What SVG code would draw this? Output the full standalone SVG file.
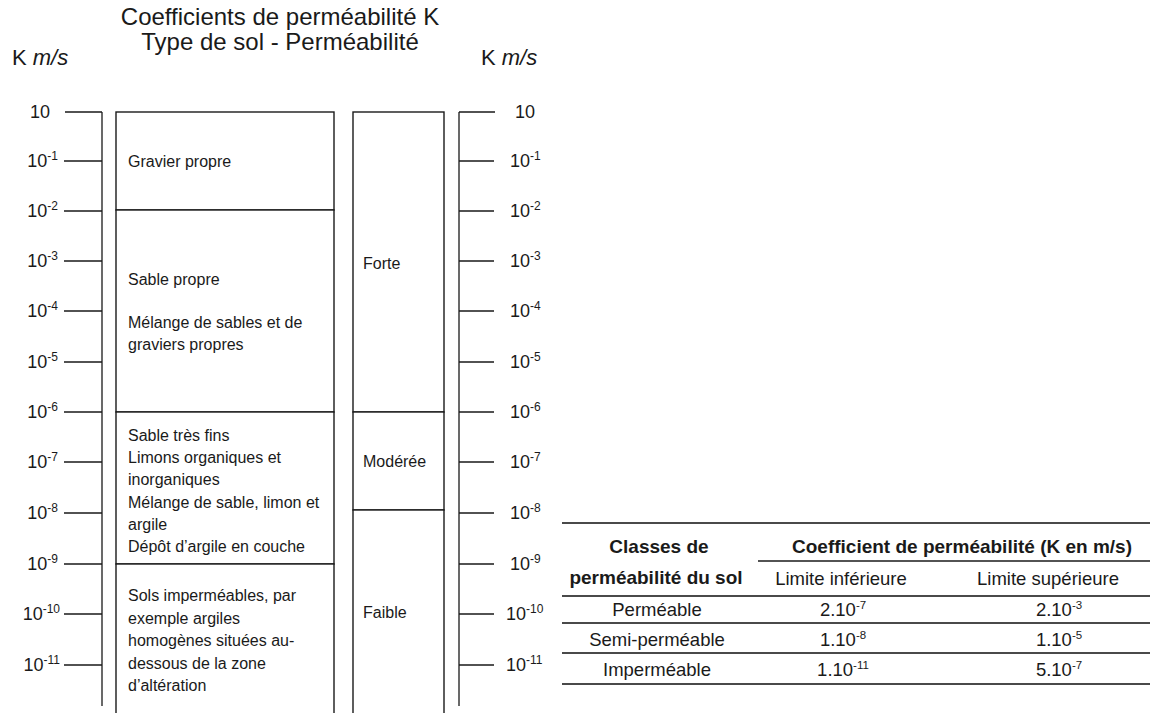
<svg xmlns="http://www.w3.org/2000/svg" width="1162" height="713" viewBox="0 0 1162 713">
<style>
text{font-family:"Liberation Sans",Arial,sans-serif;fill:#1a1a1a}
.title{font-size:24px;text-anchor:middle}
.unit{font-size:22px}
.tick{font-size:18px}
.sup{font-size:12px}
.box{fill:#fff;stroke:#1a1a1a;stroke-width:1.4}
.ln{stroke:#1a1a1a;stroke-width:1.3;fill:none}
.bt{font-size:16px}
.th{font-size:19px;font-weight:bold;text-anchor:middle}
.td{font-size:18.5px;text-anchor:middle}
.tsup{font-size:11.5px}
.rule{stroke:#4a4a4a;stroke-width:2;fill:none}
</style>
<g id="title">
<text class="title" x="280" y="25">Coefficients de perméabilité K</text>
<text class="title" x="280" y="50">Type de sol - Perméabilité</text>
<text class="unit" x="12" y="65">K <tspan font-style="italic">m/s</tspan></text>
<text class="unit" x="481" y="65">K <tspan font-style="italic">m/s</tspan></text>
</g>
<g id="connectors">
<path class="ln" d="M102,112 V706 M65,112 H102 M64,161 H102 M64,211 H102 M64,261 H102 M64,311 H102 M64,362 H102 M64,412 H102 M64,462 H102 M64,513 H102 M64,564 H102 M64,614 H102 M64,665 H102"/>
<path class="ln" d="M459,112 V706 M459,112 H495 M459,161 H494 M459,211 H494 M459,261 H494 M459,311 H494 M459,362 H494 M459,412 H494 M459,462 H494 M459,513 H494 M459,564 H494 M459,614 H494 M459,665 H494"/>
</g>
<g id="axis-left">
<text class="tick" x="50" y="118" text-anchor="end">10</text>
<text class="tick" x="58" y="167" text-anchor="end">10<tspan class="sup" dy="-7">-1</tspan></text>
<text class="tick" x="58" y="217" text-anchor="end">10<tspan class="sup" dy="-7">-2</tspan></text>
<text class="tick" x="58" y="267" text-anchor="end">10<tspan class="sup" dy="-7">-3</tspan></text>
<text class="tick" x="58" y="317" text-anchor="end">10<tspan class="sup" dy="-7">-4</tspan></text>
<text class="tick" x="58" y="368" text-anchor="end">10<tspan class="sup" dy="-7">-5</tspan></text>
<text class="tick" x="58" y="418" text-anchor="end">10<tspan class="sup" dy="-7">-6</tspan></text>
<text class="tick" x="58" y="468" text-anchor="end">10<tspan class="sup" dy="-7">-7</tspan></text>
<text class="tick" x="58" y="519" text-anchor="end">10<tspan class="sup" dy="-7">-8</tspan></text>
<text class="tick" x="58" y="570" text-anchor="end">10<tspan class="sup" dy="-7">-9</tspan></text>
<text class="tick" x="60" y="620" text-anchor="end">10<tspan class="sup" dy="-7">-10</tspan></text>
<text class="tick" x="60" y="671" text-anchor="end">10<tspan class="sup" dy="-7">-11</tspan></text>
</g>
<g id="axis-right">
<text class="tick" x="515" y="118">10</text>
<text class="tick" x="510" y="167">10<tspan class="sup" dy="-7">-1</tspan></text>
<text class="tick" x="510" y="217">10<tspan class="sup" dy="-7">-2</tspan></text>
<text class="tick" x="510" y="267">10<tspan class="sup" dy="-7">-3</tspan></text>
<text class="tick" x="510" y="317">10<tspan class="sup" dy="-7">-4</tspan></text>
<text class="tick" x="510" y="368">10<tspan class="sup" dy="-7">-5</tspan></text>
<text class="tick" x="510" y="418">10<tspan class="sup" dy="-7">-6</tspan></text>
<text class="tick" x="510" y="468">10<tspan class="sup" dy="-7">-7</tspan></text>
<text class="tick" x="510" y="519">10<tspan class="sup" dy="-7">-8</tspan></text>
<text class="tick" x="510" y="570">10<tspan class="sup" dy="-7">-9</tspan></text>
<text class="tick" x="506" y="620">10<tspan class="sup" dy="-7">-10</tspan></text>
<text class="tick" x="506" y="671">10<tspan class="sup" dy="-7">-11</tspan></text>
</g>
<g id="soil-gravier">
<rect class="box" x="116" y="112" width="218" height="98"/>
<text class="bt" x="128" y="167">Gravier propre</text>
</g>
<g id="soil-sable">
<rect class="box" x="116" y="210" width="218" height="202"/>
<text class="bt" x="128" y="285">Sable propre</text>
<text class="bt" x="128" y="328">Mélange de sables et de</text>
<text class="bt" x="128" y="350">graviers propres</text>
</g>
<g id="soil-fins">
<rect class="box" x="116" y="412" width="218" height="152"/>
<text class="bt" x="128" y="441">Sable très fins</text>
<text class="bt" x="128" y="463">Limons organiques et</text>
<text class="bt" x="128" y="485">inorganiques</text>
<text class="bt" x="128" y="508">Mélange de sable, limon et</text>
<text class="bt" x="128" y="530">argile</text>
<text class="bt" x="128" y="552">Dépôt d’argile en couche</text>
</g>
<g id="soil-impermeable">
<rect class="box" x="116" y="564" width="218" height="170"/>
<text class="bt" x="128" y="601">Sols imperméables, par</text>
<text class="bt" x="128" y="624">exemple argiles</text>
<text class="bt" x="128" y="646">homogènes situées au-</text>
<text class="bt" x="128" y="669">dessous de la zone</text>
<text class="bt" x="128" y="691">d’altération</text>
</g>
<g id="perm-forte">
<rect class="box" x="353" y="112" width="91" height="300"/>
<text class="bt" x="363" y="269">Forte</text>
</g>
<g id="perm-moderee">
<rect class="box" x="353" y="412" width="91" height="98"/>
<text class="bt" x="363" y="467">Modérée</text>
</g>
<g id="perm-faible">
<rect class="box" x="353" y="510" width="91" height="224"/>
<text class="bt" x="363" y="618">Faible</text>
</g>
<g id="table">
<path class="rule" d="M562,523 H1150 M562,596 H1150 M562,623 H1150 M562,653 H1150 M562,684 H1150"/>
<path class="ln" d="M758,561 H1150" stroke="#4a4a4a"/>
<text class="th" x="659" y="553">Classes de</text>
<text class="th" x="656" y="584">perméabilité du sol</text>
<text class="th" x="962" y="553">Coefficient de perméabilité (K en m/s)</text>
<text class="td" x="841" y="585">Limite inférieure</text>
<text class="td" x="1048" y="585">Limite supérieure</text>
<text class="td" x="657" y="616">Perméable</text>
<text class="td" x="843" y="616">2.10<tspan class="tsup" dy="-7">-7</tspan></text>
<text class="td" x="1059" y="616">2.10<tspan class="tsup" dy="-7">-3</tspan></text>
<text class="td" x="657" y="646">Semi-perméable</text>
<text class="td" x="843" y="646">1.10<tspan class="tsup" dy="-7">-8</tspan></text>
<text class="td" x="1059" y="646">1.10<tspan class="tsup" dy="-7">-5</tspan></text>
<text class="td" x="657" y="676">Imperméable</text>
<text class="td" x="843" y="676">1.10<tspan class="tsup" dy="-7">-11</tspan></text>
<text class="td" x="1059" y="676">5.10<tspan class="tsup" dy="-7">-7</tspan></text>
</g>
</svg>
